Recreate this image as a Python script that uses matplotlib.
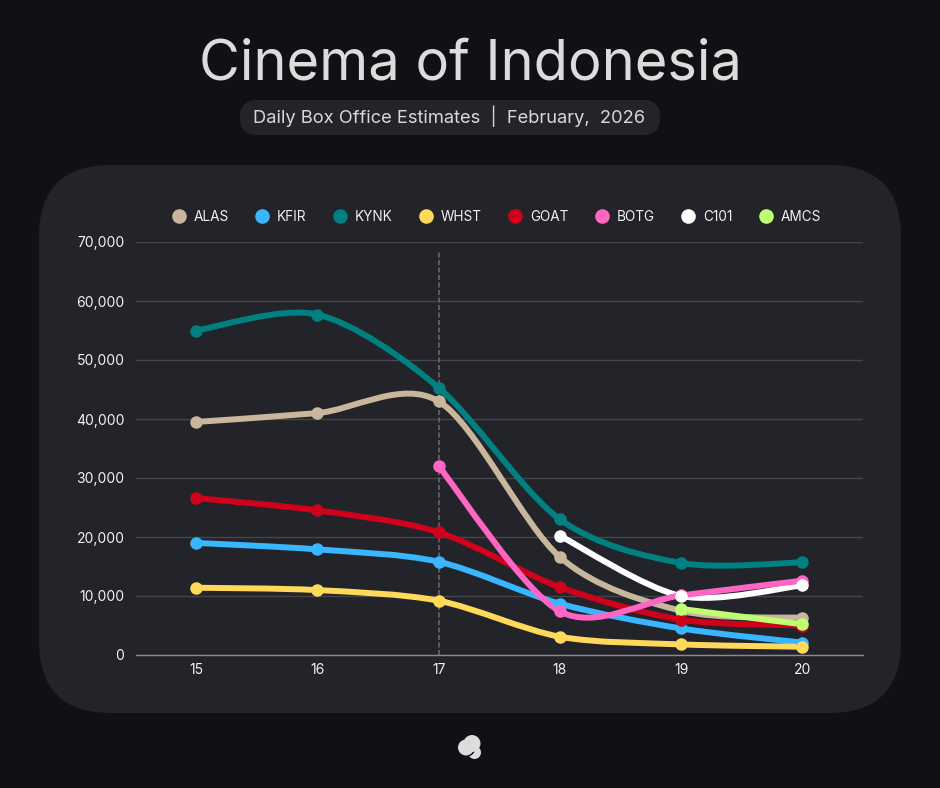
import numpy as np
import matplotlib
matplotlib.use('Agg')
import matplotlib.pyplot as plt
from matplotlib.lines import Line2D
from matplotlib.patches import Circle, FancyBboxPatch, PathPatch
from matplotlib.path import Path
from matplotlib.ticker import FuncFormatter

plt.rcParams['font.family'] = ['Inter', 'DejaVu Sans']

days = [15, 16, 17, 18, 19, 20]
nan = float('nan')
alas = [39500, 41000, 43000, 16600, 7500, 6300]
kfir = [19000, 17900, 15800, 8700, 4500, 2100]
kynk = [55000, 57700, 45300, 23000, 15600, 15700]
whst = [11400, 11000, 9200, 3100, 1800, 1400]
goat = [26600, 24500, 20800, 11500, 6000, 5000]
botg = [nan, nan, 32000, 7400, 10100, 12600]
c101 = [nan, nan, nan, 20200, 10000, 11800]
amcs = [nan, nan, nan, nan, 7800, 5200]

names = ['ALAS', 'KFIR', 'KYNK', 'WHST', 'GOAT', 'BOTG', 'C101', 'AMCS']
series = [alas, kfir, kynk, whst, goat, botg, c101, amcs]
colors = ['#c8b79c', '#38b6ff', '#008080', '#ffd95a', '#d0021b', '#ff66c4', '#ffffff', '#c1ff72']
# white line sits under the pink one, markers keep the legend order
line_order = {'ALAS': 3, 'KFIR': 4, 'KYNK': 5, 'WHST': 6, 'GOAT': 7, 'C101': 8, 'BOTG': 9, 'AMCS': 10}

BG = '#111115'
PANEL = '#23242a'
W, H = 940, 788


def smooth_path(x, y, t=0.15):
    # cardinal spline through the points, flat control at the ends
    n = len(x)
    verts = [(x[0], y[0])]
    codes = [Path.MOVETO]
    for i in range(n - 1):
        if i > 0:
            c1 = (x[i] + t * (x[i + 1] - x[i - 1]), y[i] + t * (y[i + 1] - y[i - 1]))
        else:
            c1 = (x[i] + t * (x[i + 1] - x[i]), y[i] + t * (y[i + 1] - y[i]))
        if i + 2 < n:
            c2 = (x[i + 1] - t * (x[i + 2] - x[i]), y[i + 1] - t * (y[i + 2] - y[i]))
        else:
            c2 = (x[i + 1] - t * (x[i + 1] - x[i]), y[i + 1] - t * (y[i + 1] - y[i]))
        verts += [c1, c2, (x[i + 1], y[i + 1])]
        codes += [Path.CURVE4] * 3
    return Path(verts, codes)


fig = plt.figure(figsize=(W / 100, H / 100), dpi=100, facecolor=BG)

# background layer in pixel coords
bg = fig.add_axes([0, 0, 1, 1])
bg.set_xlim(0, W)
bg.set_ylim(H, 0)
bg.axis('off')
bg.add_patch(FancyBboxPatch((39 + 72, 165 + 72), 862 - 144, 548 - 144,
                            boxstyle='round,pad=72,rounding_size=72', fc=PANEL, ec='none'))
bg.add_patch(FancyBboxPatch((257, 100 + 17), 386, 1,
                            boxstyle='round,pad=17,rounding_size=17', fc=PANEL, ec='none'))
bg.text(470, 79.5, 'Cinema of Indonesia', color='#dcdcdc', fontsize=40.3, ha='center', va='baseline')
bg.text(449.5, 122.5, 'Daily Box Office Estimates  |  February,  2026', color='#d8d8d8', fontsize=13.2,
        ha='center', va='baseline')
bg.add_patch(Circle((474.5, 752.5), 6.5, fc='#dcdcdc', ec='none'))
bg.add_patch(Circle((466, 747.5), 9.5, fc=BG, ec='none'))
bg.add_patch(Circle((466, 747.5), 8, fc='#dcdcdc', ec='none'))
bg.add_patch(Circle((472, 743.5), 8.5, fc='#dcdcdc', ec='none'))

# chart
ax = fig.add_axes([135.5 / W, 1 - 655 / H, (863 - 135.5) / W, (655 - 242) / H])
ax.patch.set_alpha(0)
ax.set_xlim(14.5, 20.5)
ax.set_ylim(0, 70000)
ax.set_xticks(days)
ax.set_yticks(range(0, 70001, 10000))
ax.yaxis.set_major_formatter(FuncFormatter(lambda v, _: f'{int(v):,}'))
ax.tick_params(length=0, colors='#f2f2f2', labelsize=10)
ax.tick_params(axis='y', pad=8)
ax.tick_params(axis='x', pad=5.5)
ax.grid(axis='y', color='#45464c', lw=1)
ax.set_axisbelow(True)
for side in ['top', 'left', 'right']:
    ax.spines[side].set_visible(False)
ax.spines['bottom'].set_color('#8a8a8f')
ax.spines['bottom'].set_linewidth(1)

ax.plot([17, 17], [0, 68500], color='#66676b', lw=1.2, ls=(0, (3, 1.5)), zorder=2)

for i, (name, vals, col) in enumerate(zip(names, series, colors)):
    arr = np.array(vals, dtype=float)
    mask = ~np.isnan(arr)
    x = np.array(days, dtype=float)[mask]
    y = arr[mask]
    ax.add_patch(PathPatch(smooth_path(x, y), fc='none', ec=col, lw=4.3,
                           capstyle='round', joinstyle='round', zorder=line_order[name]))
    ax.plot(x, y, 'o', color=col, ms=9, mec='none', zorder=20 + i, clip_on=False)

handles = [Line2D([], [], ls='none', marker='o', color=c, ms=10.5, mec='none') for c in colors]
leg = fig.legend(handles, names, ncol=8, loc='center', bbox_to_anchor=(496 / W, 1 - 217 / H),
                 frameon=False, fontsize=9.8, labelcolor='#f0f0f0', handletextpad=0.5,
                 columnspacing=1.85, handlelength=1.2)

fig.savefig('out.png', dpi=100, facecolor=BG)
